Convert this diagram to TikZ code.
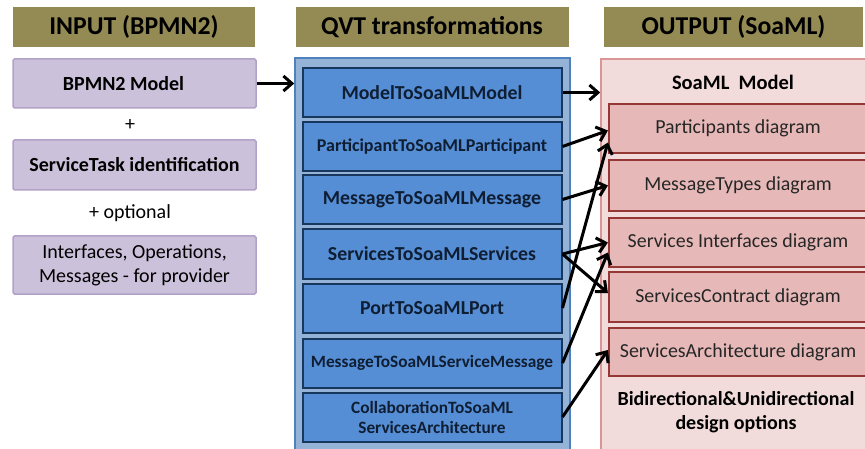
\documentclass[tikz,border=0pt]{standalone}
\usepackage{fontspec}
\setmainfont{Carlito}
\usetikzlibrary{arrows.meta,positioning}

\definecolor{headolive}{HTML}{948A54}
\definecolor{inlav}{HTML}{CCC1DA}
\definecolor{inlavline}{HTML}{B3A2C7}
\definecolor{qvtpane}{HTML}{95B3D7}
\definecolor{qvtpaneline}{HTML}{4F81BD}
\definecolor{qvtbox}{HTML}{558ED5}
\definecolor{qvtboxline}{HTML}{17375E}
\definecolor{qvttext}{HTML}{0F1E33}
\definecolor{outpane}{HTML}{F2DCDB}
\definecolor{outpaneline}{HTML}{D99694}
\definecolor{outbox}{HTML}{E6B9B8}
\definecolor{outboxline}{HTML}{953735}

\begin{document}
\begin{tikzpicture}[x=1pt, y=-1pt,
    header/.style={fill=headolive, minimum height=40pt, inner sep=0pt, font=\fontsize{25.7}{28}\selectfont\bfseries},
    inbox/.style={draw=inlavline, line width=1.5pt, fill=inlav, rounded corners=1.5pt, minimum width=243pt, inner sep=0pt, align=center, font=\fontsize{20}{24}\selectfont},
    pane/.style={line width=1.6pt, inner sep=0pt},
    qvt/.style={draw=qvtboxline, line width=2pt, fill=qvtbox, minimum width=259pt, minimum height=49pt, inner sep=0pt, align=center, text=qvttext, font=\fontsize{19.8}{22}\selectfont\bfseries},
    diag/.style={draw=outboxline, line width=2.2pt, fill=outbox, minimum width=258pt, inner sep=0pt, text=black!85, font=\fontsize{19.9}{22}\selectfont},
    note/.style={font=\fontsize{20}{24}\selectfont, align=center},
    arrow/.style={-{Straight Barb[length=8.5pt,width=15pt]}, line width=3pt}
]
\path[use as bounding box, fill=white] (0,0) rectangle (865,449);

% Column headers
\node[header, minimum width=242pt] (inhead) at (134,27) {INPUT (BPMN2)};
\node[header, minimum width=273pt] (qvthead) at (432,27) {QVT transformations};
\node[header, minimum width=259pt] (outhead) at (733.5,27) {OUTPUT (SoaML)};

% Input
\node[inbox, minimum height=49pt] (bpmn) at (134.5,83.5) {\bfseries BPMN2 Model\hspace*{22pt}};
\node[note] (plus) at (130,125) {+};
\node[inbox, minimum height=50pt] (task) at (134.5,165) {\bfseries ServiceTask identification};
\node[note] (optional) at (130,213) {+ optional};
\node[inbox, minimum height=58pt] (iface) at (134.5,265) {Interfaces, Operations,\\Messages - for provider};

% Panes
\node[pane, draw=qvtpaneline, fill=qvtpane, minimum width=275pt, minimum height=402pt] (qvtpane) at (432.5,259) {};
\node[pane, draw=outpaneline, fill=outpane, minimum width=274pt, minimum height=401pt] (outpane) at (738,259.5) {};

% QVT transformations
\node[qvt] (m2m) at (432,92.5) {ModelToSoaMLModel};
\node[qvt, font=\fontsize{18}{20}\selectfont\bfseries] (p2p) at (432,146.5) {ParticipantToSoaMLParticipant};
\node[qvt] (msg) at (432,199.5) {MessageToSoaMLMessage};
\node[qvt] (svc) at (432,254) {ServicesToSoaMLServices};
\node[qvt] (port) at (432,308) {PortToSoaMLPort};
\node[qvt, font=\fontsize{17.3}{19}\selectfont\bfseries] (smsg) at (432,363) {MessageToSoaMLServiceMessage};
\node[qvt, font=\fontsize{17.3}{20}\selectfont\bfseries] (collab) at (432,417) {CollaborationToSoaML\\ServicesArchitecture};

% Output
\node[font=\fontsize{20.5}{22}\selectfont\bfseries] (soaml) at (733,82) {SoaML\ \ Model};
\node[diag, minimum height=49pt] (parts) at (738,128.5) {Participants diagram};
\node[diag, minimum height=51pt] (msgtypes) at (738,185.5) {MessageTypes diagram};
\node[diag, minimum height=49pt] (ifaces) at (738,242.5) {Services Interfaces diagram};
\node[diag, minimum height=50pt] (contract) at (738,297) {ServicesContract diagram};
\node[diag, minimum height=48pt] (arch) at (738,352) {ServicesArchitecture diagram};
\node[note, font=\fontsize{20}{24}\selectfont\bfseries] (options) at (736,412) {Bidirectional\&Unidirectional\\design options};

% Arrows
\draw[arrow] (bpmn.east) -- (qvtpane.west |- bpmn.east);
\draw[arrow] (m2m.east) -- (outpane.west |- m2m.east);
\draw[arrow] (p2p.east) -- ([yshift=-2pt]parts.west);
\draw[arrow] (msg.east) -- (msgtypes.west);
\draw[arrow] (svc.east) -- (ifaces.west);
\draw[arrow] (svc.east) -- ([yshift=4pt]contract.west);
\draw[arrow] (port.east) -- ([yshift=-14pt]parts.west);
\draw[arrow] (smsg.east) -- ([yshift=-10pt]ifaces.west);
\draw[arrow] (collab.east) -- ([yshift=2pt]arch.west);

\end{tikzpicture}
\end{document}
